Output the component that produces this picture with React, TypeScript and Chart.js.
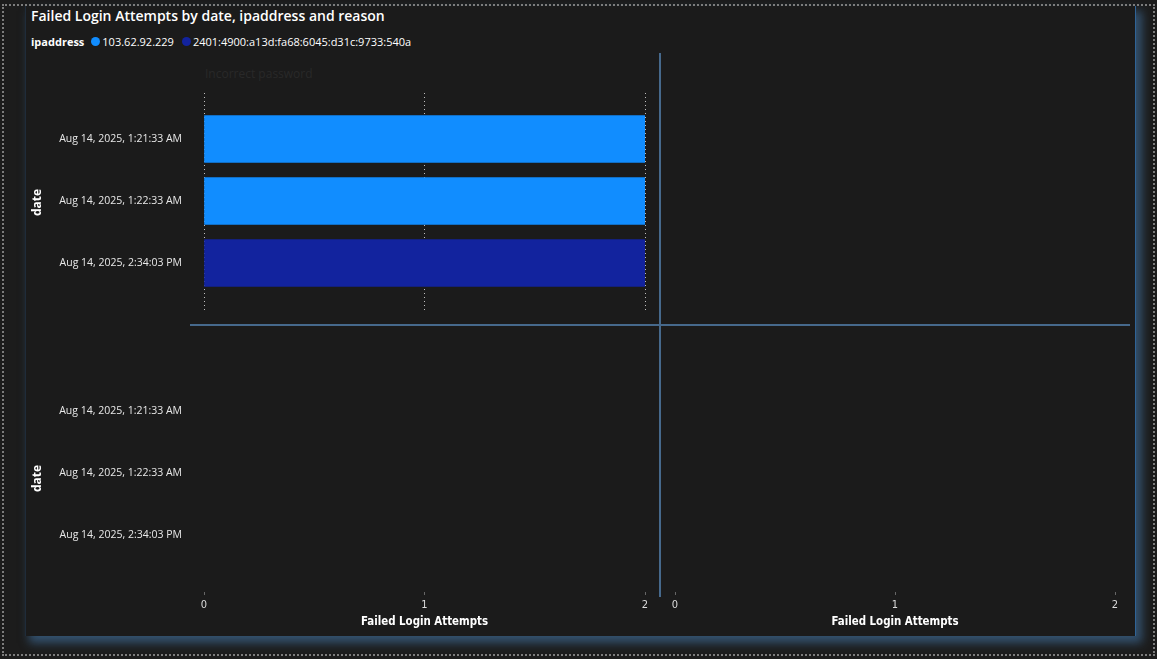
import React, { useEffect, useRef } from "react";
import { Chart, registerables } from "chart.js";
Chart.register(...registerables);

const chartTitle = "Failed Login Attempts by date, ipaddress and reason";
const legendTitle = "ipaddress";
const dates = ["Aug 14, 2025, 1:21:33 AM", "Aug 14, 2025, 1:22:33 AM", "Aug 14, 2025, 2:34:03 PM"];
const ipAddresses = ["103.62.92.229", "2401:4900:a13d:fa68:6045:d31c:9733:540a"];
const ipColors = ["#118DFF", "#12239E"];
const reasons = ["Incorrect password"];
// Failed Login Attempts per date (reason: Incorrect password)
const attemptsIp1 = [2, 2, 0];
const attemptsIp2 = [0, 0, 2];
const xTickValues = [0, 1, 2];
const xAxisTitle = "Failed Login Attempts";
const yAxisTitle = "date";

const UI_FONT = "'Segoe UI', 'Open Sans', 'Noto Sans', sans-serif";
const AXIS_FONT = "'DIN', 'Liberation Sans Narrow', 'DejaVu Sans Condensed', sans-serif";

const Y_MIN = -0.742;
const Y_MAX_TOP = 2.79;
const Y_MAX_BOTTOM = 2.92;

function toPoints(values: number[]) {
  return values
    .map((v, i) => ({ x: v, y: i }))
    .filter((p) => p.x > 0);
}

function clearPadding(s: any) {
  s.paddingTop = 0;
  s.paddingBottom = 0;
  s.paddingLeft = 0;
  s.paddingRight = 0;
}

function yScale(max: number, show: boolean) {
  return {
    type: "linear",
    display: show,
    reverse: true,
    offset: false,
    min: Y_MIN,
    max,
    afterBuildTicks: (s: any) => {
      s.ticks = dates.map((_, i) => ({ value: i }));
    },
    afterFit: (s: any) => {
      s.width = show ? 178 : 0;
      clearPadding(s);
    },
    ticks: {
      autoSkip: false,
      padding: 22,
      color: "#e8e8e8",
      font: { family: UI_FONT, size: 10.5 },
      callback: (v: any) => dates[v] ?? "",
    },
    grid: { display: false, drawTicks: false, offset: false },
    border: { display: false },
    title: {
      display: true,
      text: yAxisTitle,
      color: "#ffffff",
      font: { family: UI_FONT, size: 12, weight: "bold" },
      padding: 4,
    },
  };
}

function xScaleTop() {
  return {
    type: "linear",
    min: 0,
    max: 2,
    offset: false,
    afterBuildTicks: (s: any) => {
      s.ticks = xTickValues.map((v) => ({ value: v }));
    },
    afterFit: (s: any) => {
      s.height = 0;
      clearPadding(s);
    },
    ticks: { display: false },
    grid: { color: "rgba(220,220,220,0.85)", lineWidth: 1, drawTicks: false },
    border: { display: false, dash: [1, 3] },
  };
}

function xScaleBottom() {
  return {
    type: "linear",
    min: 0,
    max: 2,
    offset: false,
    afterBuildTicks: (s: any) => {
      s.ticks = xTickValues.map((v) => ({ value: v }));
    },
    afterFit: (s: any) => {
      s.height = 44;
      clearPadding(s);
    },
    ticks: {
      padding: 4,
      color: "#dcdcdc",
      font: { family: AXIS_FONT, size: 11 },
      callback: (v: any) => String(v),
    },
    grid: {
      drawOnChartArea: false,
      drawTicks: true,
      tickLength: 3,
      tickColor: "#666666",
    },
    border: { display: false },
    title: {
      display: true,
      text: xAxisTitle,
      color: "#ffffff",
      font: { family: AXIS_FONT, size: 11.4, weight: "bold" },
      padding: { top: 0, bottom: 7 },
    },
  };
}

function ChartBox(props: { left: number; top: number; width: number; height: number; make: () => any }) {
  const ref = useRef<HTMLCanvasElement | null>(null);
  useEffect(() => {
    if (!ref.current) return;
    const chart = new Chart(ref.current, props.make());
    return () => chart.destroy();
  }, []);
  return (
    <div style={{ position: "absolute", left: props.left, top: props.top, width: props.width, height: props.height }}>
      <canvas ref={ref} width={props.width} height={props.height} style={{ display: "block" }} />
    </div>
  );
}

function topLeftConfig() {
  return {
    type: "bar",
    data: {
      datasets: [
        { label: ipAddresses[0], data: toPoints(attemptsIp1), backgroundColor: ipColors[0] },
        { label: ipAddresses[1], data: toPoints(attemptsIp2), backgroundColor: ipColors[1] },
      ],
    },
    options: {
      responsive: false,
      animation: false,
      indexAxis: "y",
      grouped: false,
      barThickness: 47,
      layout: { autoPadding: false, padding: { left: 0, right: 6, top: 0, bottom: 0 } },
      plugins: { legend: { display: false }, tooltip: { enabled: false }, title: { display: false } },
      scales: { x: xScaleTop(), y: yScale(Y_MAX_TOP, true) },
    },
  };
}

function bottomConfig(showY: boolean, padLeft: number, padRight: number) {
  return {
    type: "bar",
    data: { datasets: [] },
    options: {
      responsive: false,
      animation: false,
      indexAxis: "y",
      layout: { autoPadding: false, padding: { left: padLeft, right: padRight, top: 0, bottom: 0 } },
      plugins: { legend: { display: false }, tooltip: { enabled: false } },
      scales: { x: xScaleBottom(), y: yScale(Y_MAX_BOTTOM, showY) },
    },
  };
}

export default function App() {
  return (
    <div style={{ position: "fixed", left: 0, top: 0, width: 1157, height: 659, background: "#1c1c1c", overflow: "hidden" }}>
      <div
        style={{
          position: "absolute",
          left: 25,
          top: 6,
          width: 1111,
          height: 630,
          background: "#1b1b1b",
          borderLeft: "1px solid #1f2c3a",
          borderRight: "1px solid #2f6396",
          boxSizing: "border-box",
          boxShadow: "5px 6px 9px 1px rgba(55,90,125,0.85)",
        }}
      />
      <div
        style={{
          position: "absolute",
          left: 2,
          top: 4,
          width: 1153,
          height: 652,
          border: "2px dotted #7c7c7c",
          boxSizing: "border-box",
        }}
      />
      <div
        style={{
          position: "absolute",
          left: 31,
          top: 6,
          color: "#ffffff",
          font: `600 14px ${UI_FONT}`,
          whiteSpace: "nowrap",
        }}
      >
        {chartTitle}
      </div>
      <div
        style={{
          position: "absolute",
          left: 31,
          top: 34,
          color: "#ffffff",
          font: `11px ${UI_FONT}`,
          whiteSpace: "nowrap",
          display: "flex",
          alignItems: "center",
        }}
      >
        <span style={{ fontWeight: 700, marginRight: 7 }}>{legendTitle}</span>
        {ipAddresses.map((ip, i) => (
          <span key={ip} style={{ display: "inline-flex", alignItems: "center", marginRight: 8 }}>
            <span
              style={{
                width: 9,
                height: 9,
                borderRadius: "50%",
                background: ipColors[i],
                display: "inline-block",
                marginRight: 2,
              }}
            />
            {ip}
          </span>
        ))}
      </div>
      <div
        style={{
          position: "absolute",
          left: 205,
          top: 65,
          color: "#292929",
          font: `12px ${UI_FONT}`,
          whiteSpace: "nowrap",
        }}
      >
        {reasons[0]}
      </div>
      <ChartBox left={26} top={93} width={625} height={219} make={topLeftConfig} />
      <ChartBox left={26} top={365} width={625} height={271} make={() => bottomConfig(true, 0, 6)} />
      <ChartBox left={660} top={365} width={465} height={271} make={() => bottomConfig(false, 15, 10)} />
      <div style={{ position: "absolute", left: 659, top: 53, width: 2, height: 544, background: "#46698c" }} />
      <div style={{ position: "absolute", left: 190, top: 324, width: 940, height: 2, background: "#46698c" }} />
    </div>
  );
}
